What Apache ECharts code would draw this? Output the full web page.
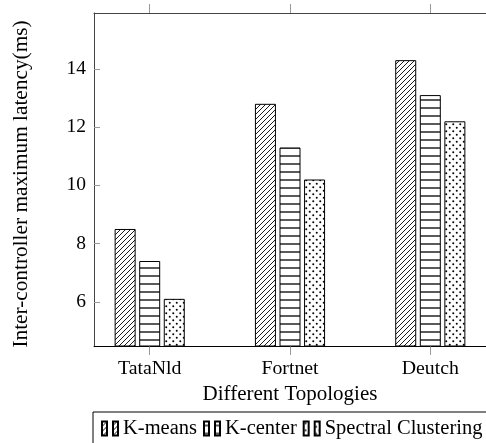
<!DOCTYPE html>
<html>
<head>
<meta charset="utf-8">
<script src="https://cdn.jsdelivr.net/npm/echarts@6/dist/echarts.min.js"></script>
<style>html,body{margin:0;padding:0;background:#fff}#c{width:486px;height:443px}</style>
</head>
<body>
<div id="c"></div>
<script>
const categories = ['TataNld', 'Fortnet', 'Deutch'];
const kmeans = [8.5, 12.8, 14.3];
const kcenter = [7.4, 11.3, 13.1];
const spectral = [6.1, 10.2, 12.2];
const yTicks = [6, 8, 10, 12, 14];
const seriesNames = ['K-means', 'K-center', 'Spectral Clustering'];

function mk(w, h, draw) {
  const c = document.createElement('canvas');
  c.width = w; c.height = h;
  const g = c.getContext('2d');
  g.fillStyle = '#fff'; g.fillRect(0, 0, w, h);
  g.strokeStyle = '#000'; g.fillStyle = '#000';
  draw(g);
  return { image: c, repeat: 'repeat' };
}
const hatch = mk(5, 5, g => {
  g.lineWidth = 0.9;
  g.beginPath();
  g.moveTo(-1, 6); g.lineTo(6, -1);
  g.moveTo(-1, 1); g.lineTo(1, -1);
  g.moveTo(4, 6); g.lineTo(6, 4);
  g.stroke();
});
const hlines = mk(4, 8, g => {
  g.lineWidth = 1.3;
  g.beginPath(); g.moveTo(0, 4); g.lineTo(4, 4); g.stroke();
});
const dots = mk(7, 7, g => {
  g.beginPath(); g.arc(1.75, 1.75, 1.0, 0, Math.PI * 2); g.fill();
  g.beginPath(); g.arc(5.25, 5.25, 1.0, 0, Math.PI * 2); g.fill();
});
const patterns = [hatch, hlines, dots];
const values = [kmeans, kcenter, spectral];

const font = 'Liberation Serif';
const chart = echarts.init(document.getElementById('c'), null, { renderer: 'canvas' });
const xMin = -0.397, xMax = 2.397;
const lineStyle = { color: '#444', width: 1 };
const tickStyle = { color: '#999', width: 1 };

chart.setOption({
  animation: false,
  backgroundColor: '#fff',
  grid: { left: 94, top: 13, width: 401, height: 333 },
  legend: {
    left: 93, top: 412, width: 420,
    orient: 'horizontal',
    data: seriesNames,
    icon: 'path://M0,0h5v14h-5zM11,0h5v14h-5z',
    itemWidth: 16, itemHeight: 14, itemGap: 6,
    padding: [6, 8, 12, 8],
    borderColor: '#000', borderWidth: 1, borderRadius: 0,
    textStyle: { fontFamily: font, fontSize: 20.5, color: '#000', padding: [12, 0, 0, 0] }
  },
  xAxis: [{
    type: 'value', position: 'bottom', min: xMin, max: xMax,
    splitLine: { show: false },
    axisLine: { show: true, onZero: false, lineStyle: { color: '#000', width: 1 } },
    axisTick: { show: true, inside: false, length: 9, customValues: [0, 1, 2], lineStyle: tickStyle },
    axisLabel: { customValues: [0, 1, 2], formatter: v => categories[Math.round(v)], margin: 13,
      fontFamily: font, fontSize: 19.8, color: '#000' },
    name: 'Different Topologies', nameLocation: 'middle', nameGap: 33,
    nameTextStyle: { fontFamily: font, fontSize: 21, color: '#000' }
  }, {
    type: 'value', position: 'top', min: xMin, max: xMax,
    splitLine: { show: false },
    axisLine: { show: true, onZero: false, lineStyle: lineStyle },
    axisTick: { show: true, inside: false, length: 9, customValues: [0, 1, 2], lineStyle: tickStyle },
    axisLabel: { show: false }
  }],
  yAxis: [{
    type: 'value', min: 4.48, max: 15.92,
    splitLine: { show: false },
    axisLine: { show: true, onZero: false, lineStyle: lineStyle },
    axisTick: { show: true, inside: true, length: 6, customValues: yTicks, lineStyle: tickStyle },
    axisLabel: { customValues: yTicks, margin: 8, fontFamily: font, fontSize: 19.5, color: '#000' },
    name: 'Inter-controller maximum latency(ms)', nameLocation: 'middle', nameGap: 62.5,
    nameTextStyle: { fontFamily: font, fontSize: 21.3, color: '#000', padding: [0, 9, 0, 0] }
  }],
  series: seriesNames.map((n, k) => ({
    name: n, type: 'bar', xAxisIndex: 0, yAxisIndex: 0,
    barWidth: 21, barGap: '17%',
    itemStyle: { color: patterns[k], borderColor: '#000', borderWidth: 1 },
    data: categories.map((c, i) => [i, values[k][i]])
  }))
});
</script>
</body>
</html>
